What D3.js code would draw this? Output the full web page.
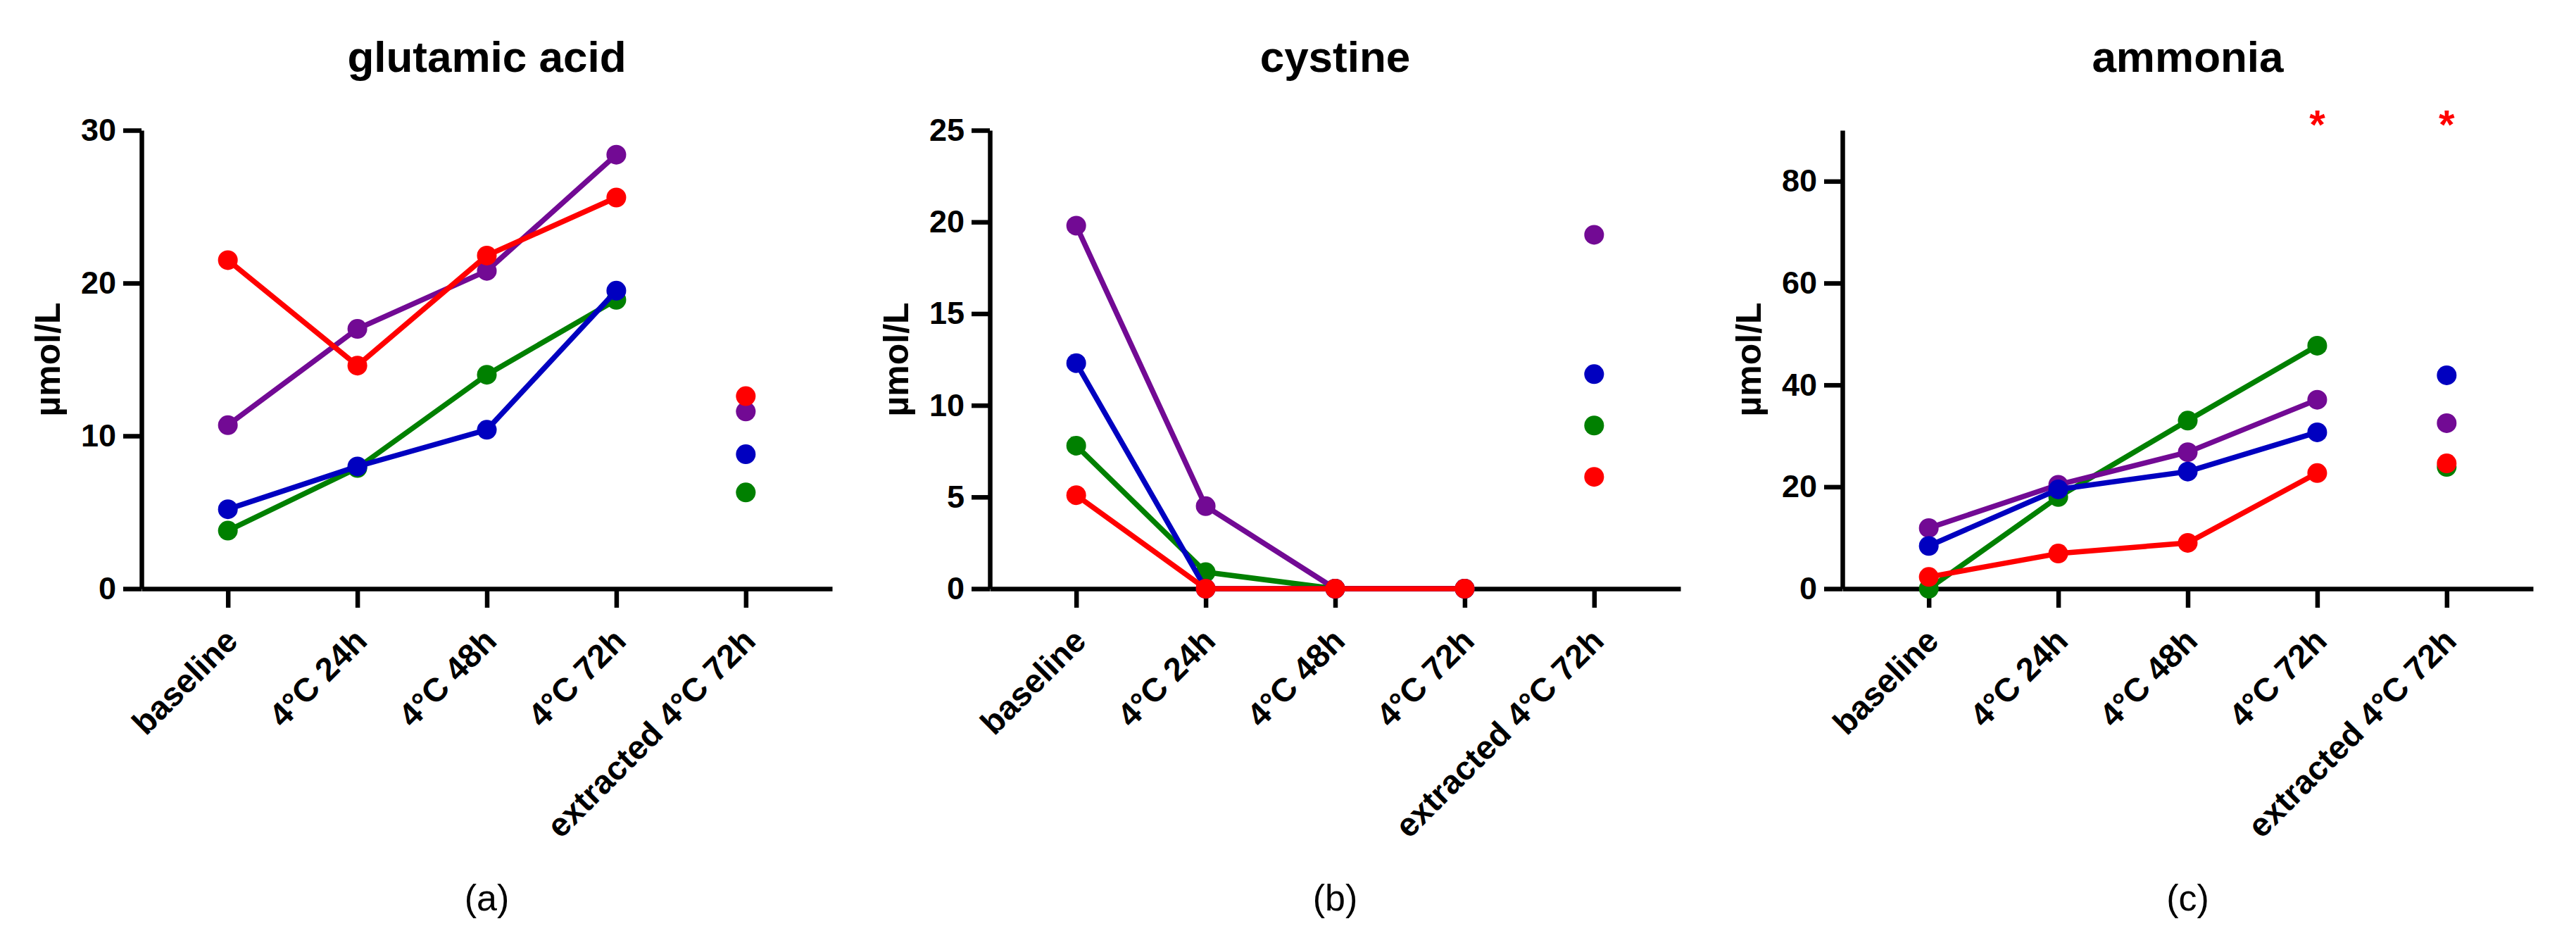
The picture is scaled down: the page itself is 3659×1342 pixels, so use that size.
<!DOCTYPE html>
<html lang="en">
<head>
<meta charset="utf-8">
<title>glutamic acid, cystine, ammonia</title>
<script src="https://cdn.jsdelivr.net/npm/d3@7"></script>
<style>
  body { margin: 0; background: #fff; }
  text { font-family: "Liberation Sans", Arial, sans-serif; }
</style>
</head>
<body>
<script>
// categories on the x axis (same for all three panels)
var categories = ["baseline", "4\u00B0C 24h", "4\u00B0C 48h", "4\u00B0C 72h", "extracted 4\u00B0C 72h"];
// only the first four are joined by lines
var lineCategories = categories.slice(0, 4);

var seriesNames = ["green", "purple", "blue", "red"];   // drawing order, red on top
var seriesColors = ["#008000", "#720A94", "#0000C0", "#FF0000"];

// glutamic acid, µmol/L
var gluGreen  = [3.8, 7.9, 14.0, 18.9, 6.3];
var gluPurple = [10.7, 17.0, 20.8, 28.4, 11.6];
var gluBlue   = [5.2, 8.0, 10.4, 19.5, 8.8];
var gluRed    = [21.5, 14.6, 21.8, 25.6, 12.6];

// cystine, µmol/L
var cysGreen  = [7.8, 0.9, 0, 0, 8.9];
var cysPurple = [19.8, 4.5, 0, 0, 19.3];
var cysBlue   = [12.3, 0, 0, 0, 11.7];
var cysRed    = [5.1, 0, 0, 0, 6.1];

// ammonia, µmol/L
var ammGreen  = [0, 18.0, 33.0, 47.7, 23.9];
var ammPurple = [11.9, 20.4, 26.8, 37.1, 32.5];
var ammBlue   = [8.4, 19.5, 23.0, 30.7, 41.9];
var ammRed    = [2.3, 6.9, 9.0, 22.7, 24.6];

var titles = ["glutamic acid", "cystine", "ammonia"];
var panelLetters = ["(a)", "(b)", "(c)"];
var yMax = [30, 25, 90];
var yTicks = [[0, 10, 20, 30], [0, 5, 10, 15, 20, 25], [0, 20, 40, 60, 80]];
var yLabel = "\u00B5mol/L";
var starCategories = [[], [], ["4\u00B0C 72h", "extracted 4\u00B0C 72h"]];

var panelData = [
  [gluGreen, gluPurple, gluBlue, gluRed],
  [cysGreen, cysPurple, cysBlue, cysRed],
  [ammGreen, ammPurple, ammBlue, ammRed]
];

//Width and height
var w = 3659;
var h = 1342;
var panelLeft = [201, 1406, 2617];
var plotW = 981;
var plotTop = 185;
var plotBottom = 836;

var svg = d3.select("body")
  .append("svg")
  .attr("width", w)
  .attr("height", h)
  .style("background", "#fff");

panelData.forEach(function(series, p) {
  var g = svg.append("g").attr("transform", "translate(" + panelLeft[p] + ",0)");

  var xScale = d3.scalePoint()
    .domain(categories)
    .range([0, plotW])
    .padding(0.667);

  var yScale = d3.scaleLinear()
    .domain([0, yMax[p]])
    .range([plotBottom, plotTop]);

  // x axis
  var xAxis = g.append("g")
    .attr("transform", "translate(0," + plotBottom + ")")
    .call(d3.axisBottom(xScale).tickSize(27).tickSizeOuter(0));
  xAxis.select(".domain").attr("stroke-width", 6.5);
  xAxis.selectAll(".tick line").attr("stroke-width", 6.5);
  xAxis.selectAll(".tick text")
    .attr("x", null).attr("y", null).attr("dy", null)
    .attr("transform", "translate(16,77) rotate(-45)")
    .attr("text-anchor", "end")
    .attr("fill", "#000")
    .style("font-size", "47px")
    .style("font-weight", "bold");

  // y axis
  var yAxis = g.append("g")
    .call(d3.axisLeft(yScale).tickValues(yTicks[p]).tickSize(26).tickPadding(10).tickSizeOuter(0));
  yAxis.select(".domain").attr("stroke-width", 6.5);
  yAxis.selectAll(".tick line").attr("stroke-width", 6.5);
  yAxis.selectAll(".tick text")
    .attr("fill", "#000")
    .style("font-size", "45px")
    .style("font-weight", "bold");

  // y label
  g.append("text")
    .attr("transform", "translate(-116," + ((plotTop + plotBottom) / 2) + ") rotate(-90)")
    .attr("text-anchor", "middle")
    .style("font-size", "50px")
    .style("font-weight", "bold")
    .text(yLabel);

  // title
  g.append("text")
    .attr("x", plotW / 2)
    .attr("y", 102)
    .attr("text-anchor", "middle")
    .style("font-size", "62px")
    .style("font-weight", "bold")
    .text(titles[p]);

  // panel letter
  g.append("text")
    .attr("x", xScale(categories[2]))
    .attr("y", 1293)
    .attr("text-anchor", "middle")
    .style("font-size", "52px")
    .text(panelLetters[p]);

  var line = d3.line()
    .x(function(d, i) { return xScale(categories[i]); })
    .y(function(d) { return yScale(d); });

  series.forEach(function(vals, s) {
    g.append("path")
      .datum(vals.slice(0, lineCategories.length))
      .attr("fill", "none")
      .attr("stroke", seriesColors[s])
      .attr("stroke-width", 7.5)
      .attr("stroke-linejoin", "round")
      .attr("d", line);

    g.selectAll(".dot-" + seriesNames[s])
      .data(vals)
      .enter()
      .append("circle")
      .attr("class", "dot-" + seriesNames[s])
      .attr("cx", function(d, i) { return xScale(categories[i]); })
      .attr("cy", function(d) { return yScale(d); })
      .attr("r", 14)
      .attr("fill", seriesColors[s]);
  });

  // significance stars
  g.selectAll(".star")
    .data(starCategories[p])
    .enter()
    .append("text")
    .attr("class", "star")
    .attr("x", function(d) { return xScale(d); })
    .attr("y", yScale(yMax[p]) + 12)
    .attr("text-anchor", "middle")
    .attr("fill", "#FF0000")
    .style("font-size", "58px")
    .style("font-weight", "bold")
    .text("*");
});
</script>
</body>
</html>
